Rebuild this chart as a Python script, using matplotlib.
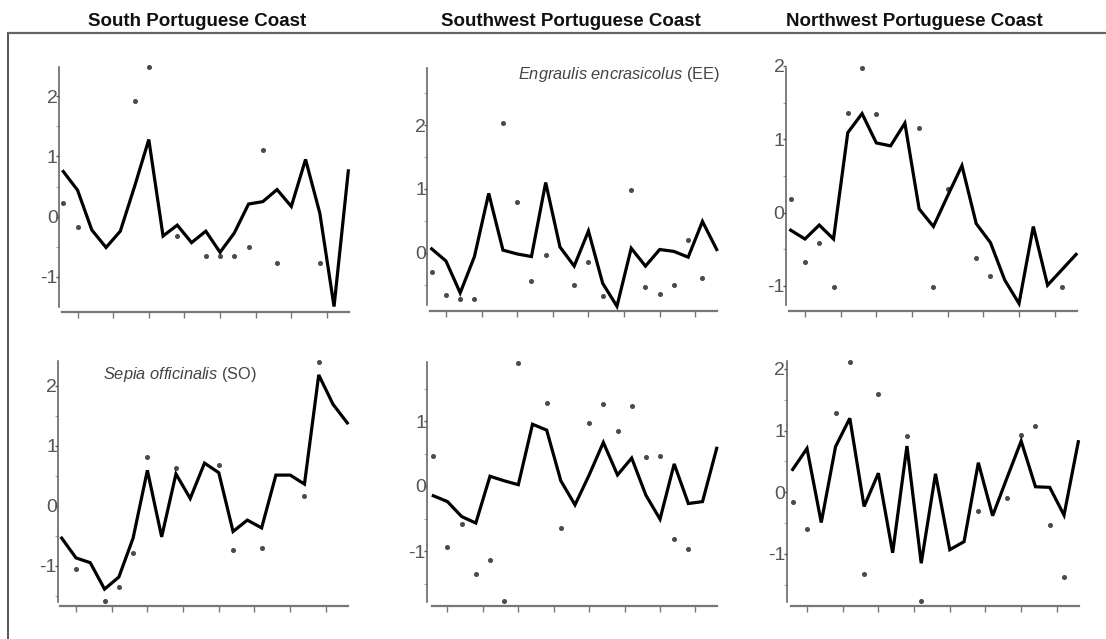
import matplotlib
matplotlib.use("Agg")
import matplotlib.pyplot as plt
import numpy as np

plt.rcParams['font.family'] = ['Liberation Sans', 'DejaVu Sans']
plt.rcParams['mathtext.fontset'] = 'custom'
plt.rcParams['mathtext.it'] = 'Liberation Sans:italic'
plt.rcParams['mathtext.rm'] = 'Liberation Sans'

# ---- data -------------------------------------------------------------
x_index = list(range(1, 22))
coast_titles = ["South Portuguese Coast", "Southwest Portuguese Coast", "Northwest Portuguese Coast"]
species_labels = [r"$\it{Engraulis\ encrasicolus}$ (EE)", r"$\it{Sepia\ officinalis}$ (SO)"]

# top row (EE)
south_ee_line = [0.75, 0.44, -0.22, -0.51, -0.24, 0.50, 1.28, -0.32, -0.14, -0.43, -0.24,
                 -0.59, -0.27, 0.21, 0.25, 0.45, 0.17, 0.95, 0.06, -1.49, 0.76]
south_ee_pts_x = [1, 2, 6, 7, 9, 11, 12, 13, 14, 15, 16, 19]
south_ee_pts_y = [0.23, -0.17, 1.92, 2.49, -0.32, -0.66, -0.65, -0.66, -0.50, 1.10, -0.77, -0.77]

sw_ee_line = [0.06, -0.13, -0.63, -0.06, 0.93, 0.04, -0.02, -0.06, 1.10, 0.09, -0.21,
              0.34, -0.48, -0.84, 0.07, -0.21, 0.05, 0.02, -0.07, 0.49, 0.05]
sw_ee_pts_x = [1, 2, 3, 4, 6, 7, 8, 9, 11, 12, 13, 15, 16, 17, 18, 19, 20]
sw_ee_pts_y = [-0.31, -0.66, -0.72, -0.72, 2.03, 0.80, -0.44, -0.04, -0.50, -0.14, -0.68,
               0.99, -0.53, -0.64, -0.50, 0.20, -0.40]

nw_ee_line = [-0.24, -0.36, -0.17, -0.36, 1.09, 1.35, 0.95, 0.91, 1.22, 0.05, -0.19,
              0.23, 0.64, -0.15, -0.41, -0.92, -1.24, -0.19, -0.99, -0.78, -0.57]
nw_ee_pts_x = [1, 2, 3, 4, 5, 6, 7, 10, 11, 12, 14, 15, 20]
nw_ee_pts_y = [0.18, -0.68, -0.42, -1.02, 1.36, 1.97, 1.35, 1.16, -1.02, 0.32, -0.62, -0.86, -1.02]

# bottom row (SO)
south_so_line = [-0.54, -0.87, -0.95, -1.39, -1.19, -0.54, 0.59, -0.52, 0.53, 0.12, 0.71,
                 0.55, -0.43, -0.24, -0.37, 0.51, 0.51, 0.36, 2.18, 1.69, 1.38]
south_so_pts_x = [2, 4, 5, 6, 7, 9, 12, 13, 15, 18, 19]
south_so_pts_y = [-1.06, -1.58, -1.35, -0.78, 0.82, 0.63, 0.68, -0.74, -0.71, 0.17, 2.40]

sw_so_line = [-0.15, -0.24, -0.47, -0.57, 0.15, 0.08, 0.02, 0.95, 0.86, 0.08, -0.29,
              0.17, 0.67, 0.17, 0.43, -0.14, -0.51, 0.34, -0.27, -0.24, 0.58]
sw_so_pts_x = [1, 2, 3, 4, 5, 6, 7, 9, 10, 12, 13, 14, 15, 16, 17, 18, 19]
sw_so_pts_y = [0.46, -0.94, -0.59, -1.35, -1.14, -1.77, 1.90, 1.28, -0.64, 0.97, 1.26,
               0.84, 1.23, 0.44, 0.46, -0.81, -0.97]

nw_so_line = [0.37, 0.71, -0.49, 0.74, 1.20, -0.23, 0.31, -0.98, 0.75, -1.15, 0.30,
              -0.93, -0.80, 0.48, -0.38, 0.23, 0.83, 0.09, 0.08, -0.37, 0.82]
nw_so_pts_x = [1, 2, 4, 5, 6, 7, 9, 10, 14, 16, 17, 18, 19, 20]
nw_so_pts_y = [-0.15, -0.59, 1.28, 2.11, -1.32, 1.59, 0.92, -1.76, -0.31, -0.10, 0.93,
               1.08, -0.53, -1.38]

x_ticks = [2, 4.5, 7, 9.5, 12, 14.5, 17, 19.5]

# ---- layout (pixel mapping of each panel) ---------------------------
W, H = 1106, 639
# x1px, dx, y0px, dy, xlim0, ylim0, ylim1, ybound_lo
panels = [
    dict(line=south_ee_line, px=south_ee_pts_x, py=south_ee_pts_y,
         geo=(63.3, 14.25, 216.7, 60.3, 0.70, -1.58, 2.49, -1.49)),
    dict(line=sw_ee_line, px=sw_ee_pts_x, py=sw_ee_pts_y,
         geo=(431.7, 14.25, 252.7, 63.8, 0.69, -0.92, 2.89, -0.82)),
    dict(line=nw_ee_line, px=nw_ee_pts_x, py=nw_ee_pts_y,
         geo=(790.7, 14.27, 211.7, 74.0, 0.67, -1.34, 1.97, -1.26)),
    dict(line=south_so_line, px=south_so_pts_x, py=south_so_pts_y,
         geo=(61.7, 14.28, 505.7, 60.0, 0.76, -1.67, 2.41, -1.60)),
    dict(line=sw_so_line, px=sw_so_pts_x, py=sw_so_pts_y,
         geo=(433.3, 14.17, 486.0, 65.0, 0.58, -1.85, 1.91, -1.78)),
    dict(line=nw_so_line, px=nw_so_pts_x, py=nw_so_pts_y,
         geo=(792.7, 14.28, 492.3, 61.7, 0.58, -1.84, 2.12, -1.77)),
]

fig = plt.figure(figsize=(W / 100, H / 100), dpi=100)
fig.patch.set_facecolor("white")

axis_grey = "#5a5a5a"
label_grey = "#555555"

for p in panels:
    x1, dx, y0, dy, xl0, yl0, yl1, ylo = p["geo"]
    xl1 = 21.3
    left = x1 + (xl0 - 1) * dx
    width = (xl1 - xl0) * dx
    top = y0 - yl1 * dy
    height = (yl1 - yl0) * dy
    ax = fig.add_axes([left / W, 1 - (top + height) / H, width / W, height / H])
    ax.set_xlim(xl0, xl1)
    ax.set_ylim(yl0, yl1)
    ax.patch.set_alpha(0)

    ax.plot(x_index, p["line"], color="black", lw=2.3, solid_joinstyle="miter", clip_on=False, zorder=3)
    ax.plot(p["px"], p["py"], linestyle="none", marker="o", ms=2.6, color="#4a4a4a",
            mec="#4a4a4a", clip_on=False, zorder=2)

    for s in ["top", "right"]:
        ax.spines[s].set_visible(False)
    ax.spines["left"].set_bounds(ylo, yl1)
    ax.spines["left"].set_color(axis_grey)
    ax.spines["left"].set_linewidth(1.1)
    ax.spines["bottom"].set_bounds(0.9, 21.05)
    ax.spines["bottom"].set_color("#777777")
    ax.spines["bottom"].set_linewidth(1.6)

    yt = [v for v in [-1, 0, 1, 2] if ylo - 0.05 <= v <= yl1 + 0.05]
    ax.set_yticks(yt)
    ax.set_yticklabels([str(v) for v in yt])
    ax.set_yticks([v + 0.5 for v in [-2, -1, 0, 1, 2] if ylo <= v + 0.5 <= yl1], minor=True)
    ax.tick_params(axis="y", which="major", length=2, width=1, pad=-1, colors=axis_grey,
                   labelcolor=label_grey, labelsize=14)
    ax.tick_params(axis="y", which="minor", length=2, width=0.8, colors="#aaaaaa")
    ax.set_xticks(x_ticks)
    ax.set_xticklabels([])
    ax.tick_params(axis="x", length=4, width=1, colors="#777777", direction="out")

# species labels
fig.text(720 / W, 1 - 75 / H, species_labels[0], ha="right", va="center",
         fontsize=11.8, color="#444444")
fig.text(103 / W, 1 - 375 / H, species_labels[1], ha="left", va="center",
         fontsize=11.8, color="#444444")

# column titles
for cx, t in zip([197, 571, 914], coast_titles):
    fig.text(cx / W, 1 - 21 / H, t, ha="center", va="center", fontsize=13.5,
             fontweight="bold", color="#111111")

# frame (left and top edges)
fig.add_artist(plt.Line2D([8 / W, 8 / W], [0, 1 - 32.5 / H], transform=fig.transFigure,
                          color="#555555", lw=1.4))
fig.add_artist(plt.Line2D([8 / W, 1], [1 - 32.5 / H, 1 - 32.5 / H], transform=fig.transFigure,
                          color="#666666", lw=1.6))

fig.savefig("out.png", dpi=100)
